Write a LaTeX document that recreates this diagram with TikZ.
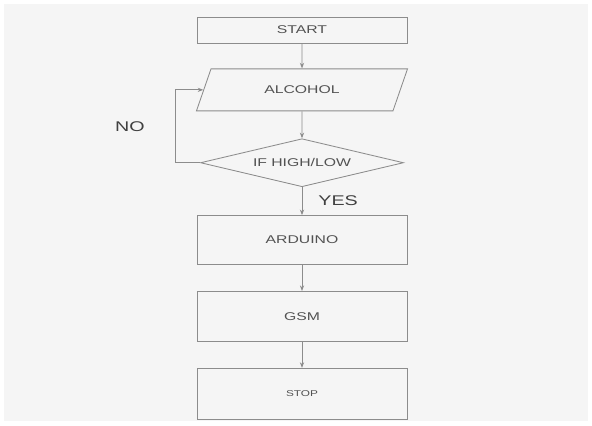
\documentclass[tikz,border=0pt]{standalone}
\usepackage{fontspec}
\setmainfont{Liberation Sans}
\newfontfamily\chartfont[FakeStretch=1.4]{Liberation Sans}
\usetikzlibrary{
    arrows.meta,
    positioning,
    shapes.geometric,
}
\colorlet{ChartBG}{white!96!black}
\colorlet{ChartLine}{black!45}
\colorlet{ChartText}{black!68}
\tikzstyle{block}=[draw=ChartLine,rectangle,line width=.6pt,minimum width=5.25cm,text=ChartText,font=\chartfont\fontsize{8}{9}\selectfont]
\tikzstyle{io}=[draw=ChartLine,trapezium,line width=.6pt,trapezium left angle=50,trapezium right angle=130,trapezium stretches body,minimum width=5.275cm,minimum height=1.05cm,text=ChartText,font=\chartfont\fontsize{8}{9}\selectfont]
\tikzstyle{decision}=[draw=ChartLine,diamond,line width=.6pt,aspect=4.2,inner sep=0pt,minimum width=5.075cm,minimum height=1.2cm,text=ChartText,font=\chartfont\fontsize{8}{9}\selectfont]
\tikzstyle{answer}=[inner sep=0pt,text=black!75,font=\chartfont\fontsize{10}{12}\selectfont]
\tikzset{
    flow/.style={draw=ChartLine,line width=.6pt,-{Stealth[length=4pt,width=3pt]}}
}

\begin{document}
\begin{tikzpicture}[x=0.025cm,y=0.025cm]
    % Background
    \fill[white] (0,0) rectangle (592,426);
    \fill[ChartBG] (4,5) rectangle (588,422);
    \useasboundingbox (0,0) rectangle (592,426);

    % Steps
    \node[block,minimum height=0.65cm] (START) at (302,396) {START};
    \node[io,below=0.625cm of START] (ALCOHOL) {ALCOHOL};
    \node[decision,below=0.675cm of ALCOHOL] (check) {IF HIGH/LOW};
    \node[block,minimum height=1.225cm,below=0.7cm of check] (ARDUINO) {ARDUINO};
    \node[block,minimum height=1.25cm,below=0.65cm of ARDUINO] (GSM) {GSM};
    \node[block,minimum height=1.275cm,below=0.65cm of GSM,font=\chartfont\fontsize{6}{7}\selectfont] (STOP) {STOP};

    \coordinate[left=0.625cm of check.west] (loop);

    \draw[flow] (START) -- (ALCOHOL);
    \draw[flow] (ALCOHOL) -- (check);
    \draw[flow] (check) -- node[answer,right=0.4cm] {YES} (ARDUINO);
    \draw[flow] (ARDUINO) -- (GSM);
    \draw[flow] (GSM) -- (STOP);
    \draw[flow] (check.west) -- (loop) |- node[answer,pos=.25,left=0.75cm] {NO} (ALCOHOL.west);
\end{tikzpicture}
\end{document}
